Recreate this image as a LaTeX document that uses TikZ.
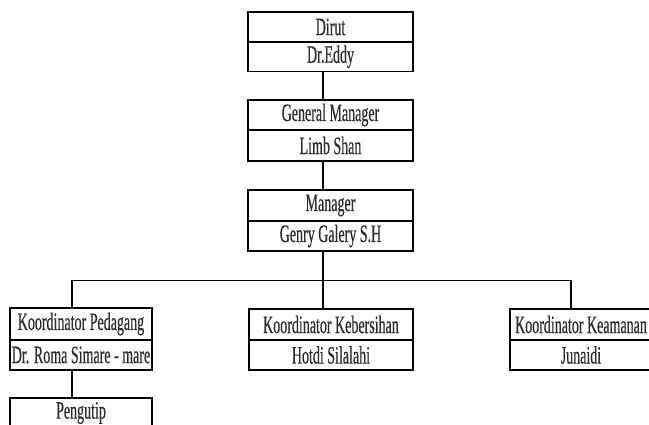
\documentclass[tikz,border=0pt]{standalone}
\usepackage{fontspec}
\setmainfont{Liberation Serif}[FakeStretch=0.56,FakeBold=0.4]
\definecolor{txt}{HTML}{2B2B2B}
\begin{document}
\begin{tikzpicture}[x=1pt,y=-1pt,
  cell/.style={draw, line width=1.6pt, inner sep=0pt, text=txt,
    font=\fontsize{25}{25}\selectfont},
  wide/.style={cell, minimum width=164.5pt},
  narrow/.style={cell, minimum width=142pt},
  link/.style={line width=1.6pt}]
\clip (0,0) rectangle (649,425);
% top chain
\node[wide, minimum height=30pt] (d1) at (330.5,27) {Dirut};
\node[wide, minimum height=29.5pt] (d2) at (330.5,56.75) {Dr.Eddy};
\node[wide, minimum height=30pt] (g1) at (330.5,115) {General Manager};
\node[wide, minimum height=31pt] (g2) at (330.5,145.5) {Limb Shan};
\node[wide, minimum height=31pt] (m1) at (330.5,205.5) {Manager};
\node[wide, minimum height=30pt] (m2) at (330.5,236) {Genry Galery S.H};
% coordinators
\node[narrow, minimum height=32pt] (p1) at (81,324) {Koordinator Pedagang};
\node[narrow, minimum height=30pt] (p2) at (81,355) {Dr. Roma Simare - mare};
\node[narrow, minimum height=30pt] (pg) at (81,413) {Pengutip};
\node[wide, minimum width=164pt, minimum height=31pt] (k1) at (331,324.5) {Koordinator Kebersihan};
\node[wide, minimum width=164pt, minimum height=30pt] (k2) at (331,355) {Hotdi Silalahi};
\node[narrow, minimum height=31pt] (s1) at (581,324.5) {Koordinator Keamanan};
\node[narrow, minimum height=30pt] (s2) at (581,355) {Junaidi};
% connector columns
\coordinate (sx) at (323,0);
\coordinate (lx) at (72,0);
\coordinate (rx) at (571,0);
\coordinate (bar) at (0,280.5);
\draw[link] (d2.south -| sx) -- (g1.north -| sx);
\draw[link] (g2.south -| sx) -- (m1.north -| sx);
\draw[link] (m2.south -| sx) -- (k1.north -| sx);
\draw[link] (lx |- bar) -- (rx |- bar);
\draw[link] (lx |- bar) -- (p1.north -| lx);
\draw[link] (rx |- bar) -- (s1.north -| rx);
\draw[link] (p2.south -| lx) -- (pg.north -| lx);
\end{tikzpicture}
\end{document}
